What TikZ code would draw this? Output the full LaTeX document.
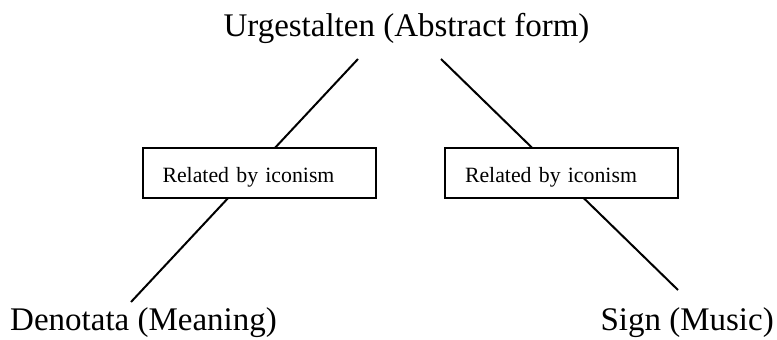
\documentclass[tikz,border=0pt]{standalone}
\usepackage{fontspec}
\setmainfont{Liberation Serif}
\begin{document}
\begin{tikzpicture}[x=1pt,y=-1pt,
  bigtext/.style={font=\fontsize{33}{40}\selectfont, inner sep=0pt},
  linkbox/.style={draw, line width=2pt, fill=white, rectangle,
    minimum width=233pt, minimum height=50pt, text width=193pt,
    inner xsep=20pt, inner ysep=0pt, align=left,
    text height=24pt, text depth=6pt,
    font=\fontsize{21.8}{26}\selectfont},
  link/.style={line width=2pt}]
\useasboundingbox (0,0) rectangle (777,340);

% labels
\node[bigtext, anchor=base] (form) at (406.5,36) {Urgestalten (Abstract form)};
\node[bigtext, anchor=base west] (meaning) at (10,330) {Denotata (Meaning)};
\node[bigtext, anchor=base east] (music) at (774,330) {Sign (Music)};

% line ends
\coordinate (lt) at (358,59);
\coordinate (lb) at (131,302);
\coordinate (rt) at (441,59);
\coordinate (rb) at (678,290);

% connecting lines, passing behind the boxes
\draw[link] (lt) -- (lb);
\draw[link] (rt) -- (rb);

% iconism boxes
\node[linkbox] (boxl) at (259,173) {Related by iconism};
\node[linkbox] (boxr) at (561.5,173) {Related by iconism};
\end{tikzpicture}
\end{document}
